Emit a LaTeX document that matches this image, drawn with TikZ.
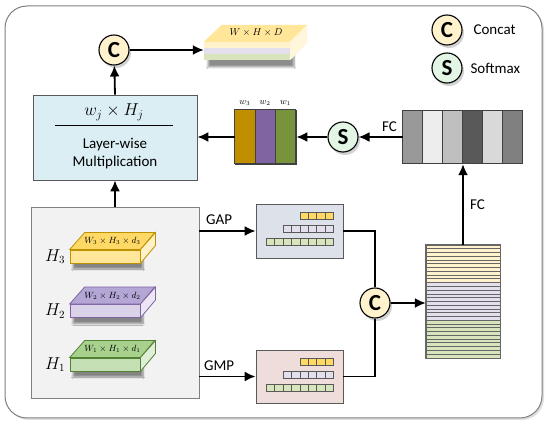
\documentclass[tikz,border=0pt]{standalone}
\usepackage{fontspec}
\setmainfont{Carlito}
\usetikzlibrary{arrows.meta, positioning, shadows, shadows.blur}
\definecolor{framegray}{HTML}{808080}
\definecolor{edgegray}{HTML}{595959}
\definecolor{multfill}{HTML}{DAEEF3}
\definecolor{featfill}{HTML}{F2F2F2}
\definecolor{gapfill}{HTML}{DCE1EA}
\definecolor{gmpfill}{HTML}{EEDDDB}
\definecolor{concatfill}{HTML}{FFF2CC}
\definecolor{softfill}{HTML}{E3F5E4}
\definecolor{yelltop}{HTML}{FFD966}
\definecolor{yellfront}{HTML}{FFE699}
\definecolor{yelledge}{HTML}{BF9000}
\definecolor{purtop}{HTML}{B4A7D6}
\definecolor{purfront}{HTML}{D9D2E9}
\definecolor{puredge}{HTML}{8064A2}
\definecolor{grntop}{HTML}{A9D18E}
\definecolor{grnfront}{HTML}{C5E0B4}
\definecolor{grnedge}{HTML}{548235}
\definecolor{stripyel}{HTML}{FFF2CC}
\definecolor{striplav}{HTML}{E4DFEC}
\definecolor{stripgrn}{HTML}{D8E4BC}
\definecolor{wochre}{HTML}{BF8F00}
\definecolor{wpurple}{HTML}{8064A2}
\definecolor{wgreen}{HTML}{77933C}

% cuboid feature map: name, x, y, top, front, edge, text
\newcommand{\featslab}[7]{%
  \node[slabfront, fill=#5, draw=#6] (#1) at (#2,#3) {};
  \draw[fill=#4, draw=#6, line width=0.8pt] (#1.north west) -- ++(15,-17) -- ++(70,0) -- (#1.north east) -- cycle;
  \draw[fill=#5!55!white, draw=#6, line width=0.8pt] (#1.north east) -- ++(15,-17) -- ++(0,13) -- (#1.south east) -- cycle;
  \node[font=\fontsize{9}{10}\selectfont] at ([shift={(7.5,-8.5)}]#1.north) {#7};
}

\begin{document}
\begin{tikzpicture}[
    x=1pt, y=-1pt,
    every node/.style={font=\fontsize{15}{18}\selectfont},
    frame/.style={draw=framegray, line width=1pt, fill=white, rounded corners=22pt, drop shadow={opacity=0.25, shadow xshift=2pt, shadow yshift=-2pt}},
    box/.style={rectangle, draw=edgegray, line width=0.8pt, inner sep=0pt},
    circ/.style={circle, draw, line width=1.1pt, minimum size=30pt, inner sep=0pt, font=\fontsize{23}{23}\selectfont\bfseries, drop shadow={opacity=0.35, shadow xshift=2pt, shadow yshift=-3pt}},
    slabfront/.style={rectangle, line width=0.8pt, minimum width=70pt, minimum height=13pt, inner sep=0pt, blur shadow={shadow xshift=3pt, shadow yshift=-6pt, shadow opacity=45, shadow blur steps=8}},
    cell/.style={draw=edgegray, line width=0.6pt},
    stripe/.style={draw=black!60, line width=0.5pt},
    arrow/.style={line width=1.8pt, -{Latex[length=11pt, width=10pt]}},
    link/.style={line width=1.8pt}
]
\useasboundingbox (0,0) rectangle (550,425);
\path[frame] (5,6) rectangle (542,418);

% Nodes
\node[box, fill=featfill, draw=framegray, minimum width=168pt, minimum height=191pt] (feat) at (115,302.5) {};
\node[box, fill=multfill, minimum width=164pt, minimum height=85pt] (mult) at (115,137.5) {};
\node (wH) at (114,112) {\fontsize{18}{20}\selectfont $w_j \times H_j$};
\draw[line width=0.8pt] (55,125) -- (173,125);
\node[align=center] (lw) at (115,154) {Layer-wise\\Multiplication};

\node[circ, fill=concatfill] (cat1) at (114,50) {C};
\node[circ, fill=concatfill] (cat2) at (375,303) {C};
\node[circ, fill=softfill] (soft) at (343,137) {S};
\node[circ, fill=concatfill] (legc) at (447,30) {C};
\node[circ, fill=softfill] (legs) at (447,68) {S};
\node[anchor=west] (legctext) at (470,30) {Concat};
\node[anchor=west] (legstext) at (467,68) {Softmax};

% output feature map
\node[minimum width=86pt, minimum height=18pt, inner sep=0pt, blur shadow={shadow xshift=4pt, shadow yshift=-7pt, shadow opacity=45, shadow blur steps=8}] (outd) at (247,51) {};
\fill[stripyel] (outd.north west) rectangle ++(86,6);
\fill[striplav] ([yshift=-6pt]outd.north west) rectangle ++(86,6);
\fill[stripgrn] ([yshift=-12pt]outd.north west) rectangle ++(86,6);
\fill[yellfront] (outd.north west) -- ++(18,-17) -- ++(86,0) -- (outd.north east) -- cycle;
\fill[stripyel!70!white] (outd.north east) -- ++(17,-17) -- ++(0,18) -- (outd.south east) -- cycle;
\node[font=\fontsize{10}{11}\selectfont] (whd) at (256,33) {$W\times H\times D$};

% feature maps
\featslab{h3}{105}{256.5}{yelltop}{yellfront}{yelledge}{$W_3\times H_3\times d_3$}
\featslab{h2}{105}{311}{purtop}{purfront}{puredge}{$W_2\times H_2\times d_2$}
\featslab{h1}{105}{364.5}{grntop}{grnfront}{grnedge}{$W_1\times H_1\times d_1$}
\node[left=1pt of h3, font=\fontsize{16}{18}\selectfont] (lh3) {$H_3$};
\node[left=1pt of h2, font=\fontsize{16}{18}\selectfont] (lh2) {$H_2$};
\node[left=1pt of h1, font=\fontsize{16}{18}\selectfont] (lh1) {$H_1$};

% pooled vectors
\node[box, fill=gapfill, minimum width=87pt, minimum height=54pt] (gap) at (299.5,231) {};
\node[box, fill=gmpfill, minimum width=87pt, minimum height=53pt] (gmp) at (299.5,376.5) {};
\foreach \pool in {gap,gmp}
  \foreach \n/\c/\dy in {4/yelltop/9, 6/striplav/22, 8/stripgrn/35}
    \foreach \k in {1,...,\n}
      \draw[cell, fill=\c] ([shift={(-10-\k*8.4,\dy)}]\pool.north east) rectangle ++(8.4,7);

% concatenated vector
\node[minimum width=74pt, minimum height=113pt, inner sep=0pt] (vec) at (463,301.5) {};
\foreach \c [count=\s from 0] in {stripyel,striplav,stripgrn}
  \foreach \i in {0,...,9}
    \draw[stripe, fill=\c] ([shift={(0,\s*37.67+\i*3.767)}]vec.north west) rectangle ++(74,3.767);
\draw[black!60, line width=0.9pt] (vec.north west) rectangle (vec.south east);

% FC vector
\node[minimum width=120pt, minimum height=53pt, inner sep=0pt] (fc) at (463,137.5) {};
\foreach \c [count=\s from 0] in {black!40,black!7,black!25,black!65,black!15,black!50}
  \draw[draw=black!75, line width=0.8pt, fill=\c] ([xshift=\s*20pt]fc.north west) rectangle ++(20,53);

% weights
\node[box, draw=black!75, minimum width=61pt, minimum height=54pt] (wbar) at (265.5,137) {};
\foreach \c/\w [count=\s from 0] in {wochre/3,wpurple/2,wgreen/1} {
  \draw[draw=black!75, line width=0.8pt, fill=\c] ([xshift=\s*20.33pt]wbar.north west) rectangle ++(20.33,54);
  \node[font=\fontsize{9}{10}\selectfont] (lw\w) at ([shift={(10.17+\s*20.33,-7)}]wbar.north west) {$w_\w$};
}

% Arrows
\draw[arrow] (feat.north) -- (mult.south);
\draw[arrow] (mult.north) -- (cat1);
\draw[arrow] (cat1) -- (outd.west |- cat1);
\draw[arrow] (feat.east |- gap.west) -- node[pos=0.35, above=2pt] {GAP} (gap.west);
\draw[arrow] (feat.east |- gmp.west) -- node[pos=0.35, above=2pt] {GMP} (gmp.west);
\draw[link] (gap.east) -| (cat2);
\draw[link] (gmp.east) -| (cat2);
\draw[arrow] (cat2) -- (vec.west |- cat2);
\draw[arrow] (vec.north) -- node[midway, right=3pt] {FC} (fc.south);
\draw[arrow] (fc.west |- soft) -- node[pos=0.3, above=1pt] {FC} (soft);
\draw[arrow] (soft) -- (wbar.east |- soft);
\draw[arrow] (wbar.west) -- (mult.east |- wbar.west);

\end{tikzpicture}
\end{document}
